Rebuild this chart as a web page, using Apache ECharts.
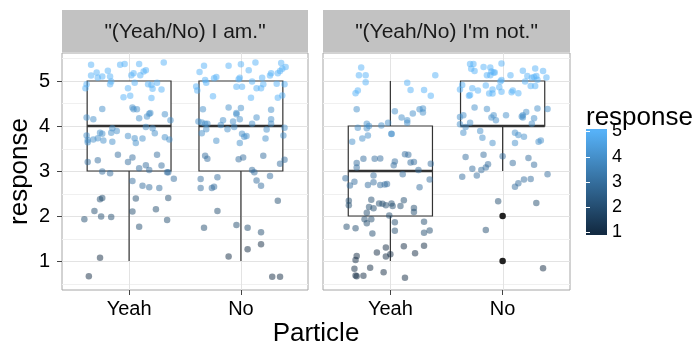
<!DOCTYPE html>
<html>
<head>
<meta charset="utf-8">
<script src="https://cdn.jsdelivr.net/npm/echarts@6.0.0/dist/echarts.min.js"></script>
<style>
  html, body { margin: 0; padding: 0; background: #fff; }
  #chart { width: 698px; height: 348px; }
</style>
</head>
<body>
<div id="chart"></div>
<script>
// ---- data ----
const categories = ['Yeah', 'No'];
const facetTitles = ['"(Yeah/No) I am."', '"(Yeah/No) I\'m not."'];
const yTicks = [1, 2, 3, 4, 5];
const yMinorTicks = [0.5, 1.5, 2.5, 3.5, 4.5, 5.5];
const legendTicks = [1, 2, 3, 4, 5];

// box statistics: [category position, lower whisker, Q1, median, Q3, upper whisker]
const boxesAm = [[1, 1, 3, 4, 5, 5], [2, 1, 3, 4, 5, 5]];
const boxesNot = [[1, 1, 2, 3, 4, 5], [2, 3, 4, 4, 5, 5]];
// outlying responses: [category position, response]
const outliersNot = [[2, 2], [2, 1]];

// jittered responses: [horizontal offset from the category, jittered response]
const amYeah = [
  [-0.34,5.36],[-0.08,5.36],[-0.04,5.38],[0.09,5.38],[0.31,5.41],[-0.29,5.19],[-0.34,5.12],[-0.19,5.23],
  [-0.24,5.10],[-0.28,5.07],[-0.17,5.10],[-0.16,4.99],[0.02,5.13],[0.04,5.17],[0.10,5.13],[0.13,5.21],
  [0.15,5.24],[-0.38,4.93],[-0.39,4.84],[-0.17,4.93],[-0.01,4.84],[0.05,4.96],[0.17,4.93],[0.20,4.91],
  [0.21,4.83],[0.25,4.96],[0.29,4.81],[-0.05,4.64],[0.01,4.67],[0.20,4.62],[-0.24,4.38],[0.03,4.41],
  [0.04,4.37],[0.07,4.37],[0.09,4.17],[0.16,4.21],[0.18,4.27],[0.19,4.29],[0.32,4.26],[-0.38,4.19],
  [-0.32,4.15],[0.37,4.13],[0.15,3.98],[0.21,3.95],[-0.15,3.95],[-0.16,3.85],[-0.11,3.89],[-0.38,3.79],
  [-0.37,3.69],[-0.37,3.64],[-0.32,3.70],[-0.28,3.73],[-0.26,3.85],[-0.24,3.83],[-0.23,3.68],[-0.15,3.65],
  [-0.01,3.78],[0.05,3.73],[0.06,3.62],[0.12,3.72],[0.23,3.84],[0.32,3.75],[0.36,3.70],[-0.10,3.36],
  [-0.37,3.20],[-0.28,3.24],[-0.01,3.20],[0.03,3.30],[0.09,3.06],[0.15,3.13],[0.18,3.02],[0.25,3.36],
  [0.29,3.12],[0.34,2.97],[0.35,2.97],[-0.24,2.99],[-0.17,2.95],[0.03,2.78],[0.40,2.83],[0.12,2.67],
  [0.18,2.64],[0.27,2.62],[-0.26,2.37],[-0.24,2.40],[0.06,2.39],[0.35,2.40],[-0.31,2.11],[0.03,2.10],
  [0.24,2.15],[-0.40,1.93],[-0.25,1.99],[-0.16,1.98],[0.34,1.91],[0.09,1.76],[-0.26,1.07],[-0.36,0.66]
];
const amNo = [
  [-0.33,5.34],[-0.37,5.20],[-0.11,5.34],[0.00,5.37],[0.13,5.41],[0.07,5.24],[0.36,5.40],[0.40,5.31],
  [0.37,5.27],[0.35,5.22],[0.33,5.17],[0.27,5.17],[0.26,5.12],[-0.22,5.09],[-0.24,5.06],[-0.32,5.02],
  [-0.31,4.96],[-0.02,5.04],[-0.01,5.07],[0.19,5.07],[0.10,4.99],[0.20,4.93],[0.18,4.84],[0.32,4.94],
  [0.39,4.93],[-0.04,4.87],[0.01,4.87],[0.14,4.84],[-0.40,4.88],[-0.39,4.79],[-0.25,4.66],[0.09,4.63],
  [0.33,4.63],[0.37,4.68],[-0.34,4.37],[-0.11,4.41],[0.00,4.40],[-0.04,4.29],[-0.04,4.26],[-0.01,4.15],
  [0.14,4.19],[0.27,4.36],[0.27,4.15],[-0.38,4.10],[-0.35,4.08],[-0.32,4.05],[-0.30,4.05],[-0.16,4.13],
  [-0.18,4.02],[-0.12,3.93],[-0.07,4.10],[-0.06,3.98],[0.10,4.05],[0.27,4.05],[0.39,3.96],[-0.35,3.84],
  [-0.31,3.93],[0.01,3.83],[0.05,3.78],[0.03,3.76],[0.23,3.92],[0.38,3.79],[-0.22,3.67],[-0.01,3.62],
  [0.22,3.72],[-0.32,3.34],[-0.30,3.27],[-0.02,3.26],[0.02,3.30],[0.20,3.34],[0.35,3.16],[0.39,3.25],
  [0.10,3.02],[0.12,2.97],[-0.36,2.82],[-0.21,2.86],[0.14,2.79],[0.26,2.89],[-0.36,2.62],[-0.26,2.62],
  [-0.24,2.65],[0.18,2.67],[0.33,2.34],[-0.21,2.11],[-0.33,1.74],[-0.04,1.80],[0.06,1.74],[0.18,1.64],
  [0.06,1.26],[0.18,1.37],[-0.11,1.10],[0.28,0.65],[0.35,0.65]
];
const notYeah = [
  [-0.26,5.30],[-0.28,5.13],[-0.22,5.13],[-0.22,4.97],[0.40,5.13],[0.15,4.96],[0.18,4.80],[0.30,4.80],
  [0.36,4.67],[-0.31,4.73],[-0.29,4.79],[-0.30,4.37],[0.04,4.33],[0.10,4.19],[0.15,4.13],[0.15,4.07],
  [0.20,4.28],[0.26,4.37],[0.29,4.39],[0.29,4.30],[-0.21,4.05],[-0.19,4.00],[-0.29,3.96],[-0.21,3.95],
  [-0.08,4.01],[-0.02,4.07],[0.01,3.83],[0.01,3.82],[-0.20,3.79],[-0.25,3.72],[-0.34,3.65],[0.13,3.37],
  [0.16,3.36],[-0.14,3.27],[-0.09,3.28],[-0.24,3.27],[-0.30,3.18],[-0.30,3.08],[0.04,3.21],[0.03,3.13],
  [0.18,3.19],[0.21,3.20],[0.36,3.16],[0.25,3.02],[-0.40,2.84],[-0.36,2.68],[-0.32,2.76],[-0.15,2.90],
  [-0.15,2.75],[-0.20,2.69],[-0.09,2.69],[-0.05,2.70],[-0.03,2.71],[0.11,2.93],[0.26,2.64],[0.35,2.81],
  [-0.37,2.34],[-0.37,2.24],[-0.17,2.36],[-0.10,2.28],[-0.07,2.27],[-0.04,2.24],[0.01,2.28],[0.02,2.22],
  [-0.19,2.20],[-0.15,2.17],[-0.21,2.07],[0.09,2.22],[0.12,2.35],[0.21,2.18],[0.21,2.09],[-0.23,1.93],
  [-0.17,1.93],[-0.21,1.84],[-0.01,2.01],[-0.39,1.76],[-0.31,1.73],[-0.16,1.61],[0.04,1.86],[0.04,1.67],
  [0.30,1.87],[0.30,1.63],[0.35,1.68],[-0.04,1.30],[-0.12,1.19],[-0.04,1.10],[0.00,1.15],[0.12,1.33],
  [0.30,1.34],[0.22,1.17],[-0.30,1.11],[-0.31,1.02],[-0.32,0.83],[-0.18,0.85],[-0.06,0.75],[-0.31,0.68],
  [-0.30,0.66],[-0.24,0.67],[0.13,0.63]
];
const notNo = [
  [-0.29,5.38],[-0.26,5.38],[-0.28,5.27],[-0.25,5.22],[-0.17,5.31],[-0.11,5.30],[-0.10,5.21],[-0.08,5.19],
  [-0.07,5.19],[-0.14,5.13],[-0.11,5.13],[-0.01,5.39],[0.07,5.13],[0.18,5.23],[0.29,5.28],[0.36,5.22],
  [0.22,5.11],[0.26,5.07],[0.28,5.09],[0.30,5.11],[0.31,5.03],[0.39,5.08],[0.20,4.99],[-0.02,4.99],
  [-0.01,5.02],[-0.36,4.91],[-0.38,4.81],[-0.27,4.84],[-0.22,4.79],[-0.15,4.90],[-0.09,4.81],[-0.12,4.72],
  [-0.09,4.72],[-0.03,4.86],[-0.01,4.76],[0.09,4.79],[0.08,4.75],[0.14,4.73],[0.25,4.89],[0.29,4.89],
  [-0.30,4.67],[-0.29,4.69],[-0.25,4.41],[-0.14,4.38],[0.03,4.24],[-0.10,4.19],[-0.08,4.24],[-0.06,4.13],
  [-0.38,4.20],[-0.35,4.24],[-0.33,3.98],[-0.29,4.07],[-0.38,4.04],[0.17,4.21],[0.18,4.24],[0.21,4.31],
  [0.18,4.19],[0.28,4.17],[0.26,4.05],[0.31,4.39],[0.40,4.38],[-0.35,3.85],[-0.20,3.89],[-0.18,3.74],
  [-0.09,3.62],[0.11,3.85],[0.14,3.80],[0.19,3.76],[0.11,3.62],[0.32,3.65],[0.34,3.68],[-0.33,3.31],
  [-0.17,3.36],[0.00,3.33],[0.09,3.18],[0.23,3.29],[0.28,3.14],[-0.27,3.05],[-0.19,3.02],[-0.15,3.08],
  [-0.13,3.15],[-0.36,2.87],[-0.23,2.90],[0.40,2.93],[0.14,2.73],[0.11,2.65],[0.19,2.81],[0.25,2.82],
  [-0.04,2.33],[0.30,2.29],[-0.15,1.69],[0.36,0.84]
];

// ---- layout & style ----
const FONT = '"Liberation Sans", Arial, Helvetica, sans-serif';
const panels = [{ left: 62, width: 246 }, { left: 323, width: 247 }];
const panelTop = 53, panelHeight = 237;
const stripTop = 10, stripHeight = 42;
const yMin = 0.356, yMax = 5.622;
const colorLow = '#132B43', colorHigh = '#56B1F7';
// the same two colours at half alpha, for the jittered points
const pointLow = 'rgba(19,43,67,0.5)', pointHigh = 'rgba(86,177,247,0.5)';

// The recorded response is an integer; vertical jitter stays within ±0.4 of it.
function jitterData(points, catIndex) {
  return points.map(p => [catIndex + 1 + p[0], p[1], Math.round(p[1])]);
}

function gridLineData() {
  return yTicks.map(v => [0, v, 1])
    .concat(yMinorTicks.map(v => [0, v, 0]))
    .concat(categories.map((c, i) => [1, i + 1, 1]));
}

function renderGridLine(params, api) {
  const cs = params.coordSys;
  const vertical = api.value(0) === 1;
  const v = api.value(1);
  const major = api.value(2) === 1;
  let shape;
  if (vertical) {
    const x = Math.round(api.coord([v, 1])[0]) + 0.5;
    shape = { x1: x, y1: cs.y, x2: x, y2: cs.y + cs.height };
  } else {
    const y = Math.round(api.coord([1, v])[1]) + 0.5;
    shape = { x1: cs.x, y1: y, x2: cs.x + cs.width, y2: y };
  }
  return {
    type: 'line', shape: shape, silent: true,
    style: { stroke: major ? '#E3E3E3' : '#F0F0F0', lineWidth: 1 }
  };
}

function renderBox(params, api) {
  const c = api.value(0), lo = api.value(1), q1 = api.value(2),
        med = api.value(3), q3 = api.value(4), hi = api.value(5);
  const halfWidth = 0.375;
  const x = api.coord([c, q1])[0];
  const xL = api.coord([c - halfWidth, q1])[0];
  const xR = api.coord([c + halfWidth, q1])[0];
  const yLo = api.coord([c, lo])[1], yQ1 = api.coord([c, q1])[1];
  const yMed = api.coord([c, med])[1], yQ3 = api.coord([c, q3])[1];
  const yHi = api.coord([c, hi])[1];
  const stroke = '#333333';
  const children = [];
  if (hi > q3) children.push({ type: 'line', shape: { x1: x, y1: yQ3, x2: x, y2: yHi }, style: { stroke, lineWidth: 1.2 } });
  if (lo < q1) children.push({ type: 'line', shape: { x1: x, y1: yQ1, x2: x, y2: yLo }, style: { stroke, lineWidth: 1.2 } });
  children.push({ type: 'rect', shape: { x: xL, y: yQ3, width: xR - xL, height: yQ1 - yQ3 }, style: { fill: '#ffffff', stroke, lineWidth: 1.2 } });
  children.push({ type: 'line', shape: { x1: xL, y1: yMed, x2: xR, y2: yMed }, style: { stroke, lineWidth: 2.4 } });
  return { type: 'group', children };
}

function renderColorBar(params, api) {
  const p0 = api.coord([0, 5.1]);
  const p1 = api.coord([1, 0.9]);
  return {
    type: 'rect',
    shape: { x: p0[0], y: p0[1], width: p1[0] - p0[0], height: p1[1] - p0[1] },
    style: {
      fill: new echarts.graphic.LinearGradient(0, 0, 0, 1, [
        { offset: 0, color: colorHigh },
        { offset: 0.024, color: colorHigh },
        { offset: 0.976, color: colorLow },
        { offset: 1, color: colorLow }
      ])
    }
  };
}

const xAxisBase = {
  type: 'value', min: 0.4, max: 2.6,
  axisLine: { show: false },
  splitLine: { show: false },
  axisTick: { show: true, customValues: [1, 2], length: 5, lineStyle: { color: '#444', width: 1 } },
  axisLabel: {
    customValues: [1, 2], margin: 9, fontSize: 20, color: '#000', fontFamily: FONT,
    formatter: v => categories[Math.round(v) - 1]
  }
};

const chart = echarts.init(document.getElementById('chart'), null, { renderer: 'canvas' });

const option = {
  animation: false,
  backgroundColor: '#ffffff',
  textStyle: { fontFamily: FONT },
  grid: [
    { left: panels[0].left, top: panelTop, width: panels[0].width, height: panelHeight,
      show: true, backgroundColor: '#ffffff', borderColor: '#A6A6A6', borderWidth: 1 },
    { left: panels[1].left, top: panelTop, width: panels[1].width, height: panelHeight,
      show: true, backgroundColor: '#ffffff', borderColor: '#A6A6A6', borderWidth: 1 },
    { left: 586, top: 129, width: 21, height: 106 }
  ],
  xAxis: [
    Object.assign({ gridIndex: 0 }, xAxisBase),
    Object.assign({ gridIndex: 1 }, xAxisBase),
    { gridIndex: 2, type: 'value', min: 0, max: 1, show: false }
  ],
  yAxis: [
    { gridIndex: 0, type: 'value', min: yMin, max: yMax,
      name: 'response', nameLocation: 'middle', nameGap: 29, nameRotate: 90,
      nameTextStyle: { fontSize: 26, color: '#000', fontFamily: FONT },
      axisLine: { show: false }, splitLine: { show: false },
      axisTick: { show: true, customValues: yTicks, length: 5, lineStyle: { color: '#444', width: 1 } },
      axisLabel: { customValues: yTicks, margin: 12, fontSize: 20, color: '#000', fontFamily: FONT } },
    { gridIndex: 1, type: 'value', min: yMin, max: yMax,
      axisLine: { show: false }, splitLine: { show: false },
      axisTick: { show: false }, axisLabel: { show: false } },
    { gridIndex: 2, type: 'value', min: 0.9, max: 5.1, position: 'right', z: 10,
      axisLine: { show: false }, splitLine: { show: false },
      axisTick: { show: true, inside: true, customValues: legendTicks, length: 4, lineStyle: { color: '#ffffff', width: 1 } },
      axisLabel: { customValues: legendTicks, margin: 5, fontSize: 18, color: '#000', fontFamily: FONT } },
    { gridIndex: 2, type: 'value', min: 0.9, max: 5.1, position: 'left', z: 10,
      axisLine: { show: false }, splitLine: { show: false },
      axisTick: { show: true, inside: true, customValues: legendTicks, length: 4, lineStyle: { color: '#ffffff', width: 1 } },
      axisLabel: { show: false } }
  ],
  visualMap: {
    type: 'continuous', show: false, min: 1, max: 5, dimension: 2,
    seriesIndex: [5, 6],
    inRange: { color: [pointLow, pointHigh] }
  },
  series: [
    { type: 'custom', xAxisIndex: 0, yAxisIndex: 0, z: 1, silent: true, renderItem: renderGridLine, data: gridLineData() },
    { type: 'custom', xAxisIndex: 1, yAxisIndex: 1, z: 1, silent: true, renderItem: renderGridLine, data: gridLineData() },
    { type: 'custom', xAxisIndex: 0, yAxisIndex: 0, z: 2, renderItem: renderBox, data: boxesAm },
    { type: 'custom', xAxisIndex: 1, yAxisIndex: 1, z: 2, renderItem: renderBox, data: boxesNot },
    { type: 'scatter', xAxisIndex: 1, yAxisIndex: 1, z: 3, symbolSize: 6.5,
      itemStyle: { color: '#222222', opacity: 1 }, data: outliersNot },
    { type: 'scatter', xAxisIndex: 0, yAxisIndex: 0, z: 4, symbolSize: 6.5,
      itemStyle: { opacity: 1 },
      data: jitterData(amYeah, 0).concat(jitterData(amNo, 1)) },
    { type: 'scatter', xAxisIndex: 1, yAxisIndex: 1, z: 4, symbolSize: 6.5,
      itemStyle: { opacity: 1 },
      data: jitterData(notYeah, 0).concat(jitterData(notNo, 1)) },
    { type: 'custom', xAxisIndex: 2, yAxisIndex: 2, z: 2, silent: true, renderItem: renderColorBar, data: [[0, 0]] }
  ],
  graphic: [
    { type: 'rect', left: panels[0].left, top: stripTop, shape: { width: panels[0].width, height: stripHeight }, style: { fill: '#C2C2C2' } },
    { type: 'rect', left: panels[1].left, top: stripTop, shape: { width: panels[1].width, height: stripHeight }, style: { fill: '#C2C2C2' } },
    { type: 'text', x: panels[0].left + panels[0].width / 2, y: stripTop + stripHeight / 2 + 1,
      style: { text: facetTitles[0], fill: '#1A1A1A', font: '21px ' + FONT, textAlign: 'center', textVerticalAlign: 'middle' } },
    { type: 'text', x: panels[1].left + panels[1].width / 2, y: stripTop + stripHeight / 2 + 1,
      style: { text: facetTitles[1], fill: '#1A1A1A', font: '21px ' + FONT, textAlign: 'center', textVerticalAlign: 'middle' } },
    { type: 'text', x: 316, y: 334,
      style: { text: 'Particle', fill: '#000', font: '26px ' + FONT, textAlign: 'center', textVerticalAlign: 'middle' } },
    { type: 'text', x: 586, y: 118,
      style: { text: 'response', fill: '#000', font: '26px ' + FONT, textAlign: 'left', textVerticalAlign: 'middle' } }
  ]
};

chart.setOption(option);
</script>
</body>
</html>
